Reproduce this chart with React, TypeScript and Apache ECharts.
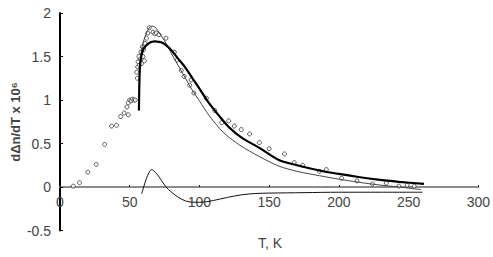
import React, { useEffect, useRef } from "react";
import * as echarts from "echarts";

const xTicks = [0, 50, 100, 150, 200, 250, 300];
const yTicks = [-0.5, 0, 0.5, 1, 1.5, 2];

const dataT = [9.5, 14, 20, 26, 32, 37, 40.5, 43.5, 46, 49, 48, 49, 50, 51, 52, 53, 54,
  55, 55.5, 55.7, 56, 56.5, 57, 57.5, 58, 58.5, 59, 59.5, 60, 60.5, 61, 62, 63, 64, 66.7, 68, 69, 71, 76,
  82, 84, 87, 89, 93, 94, 96, 105, 111, 116, 121, 125, 130, 136, 143, 150, 161, 168, 174, 186, 191,
  202, 213, 224, 234, 243, 249, 254];
const dataV = [0.01, 0.05, 0.17, 0.26, 0.49, 0.70, 0.71, 0.81, 0.85, 0.83, 0.92, 0.97, 1.0, 0.99, 1.01, 1.0, 1.0,
  1.32, 1.25, 1.38, 1.44, 1.5, 1.4, 1.47, 1.55, 1.42, 1.61, 1.5, 1.58, 1.45, 1.65, 1.71, 1.77, 1.83, 1.78, 1.76, 1.77, 1.75, 1.71,
  1.55, 1.46, 1.34, 1.27, 1.17, 1.23, 1.08, 1.02, 0.88, 0.74, 0.76, 0.70, 0.66, 0.61, 0.51, 0.44, 0.38, 0.28, 0.25, 0.18, 0.2,
  0.10, 0.07, 0.035, 0.045, 0.01, 0.02, 0.01];

const fitT = [56.6, 56.8, 57.2, 58, 59, 60, 62, 64, 66, 68, 70, 73, 76, 80, 85, 90, 95, 100, 107, 114, 121, 130, 143, 157, 170, 186, 200, 214, 228, 243, 261];
const fitV = [0.88, 1.1, 1.35, 1.48, 1.55, 1.59, 1.63, 1.655, 1.67, 1.675, 1.67, 1.66, 1.63, 1.57, 1.47, 1.37, 1.25, 1.13, 0.96, 0.82, 0.69, 0.57, 0.45, 0.31, 0.25, 0.19, 0.15, 0.115, 0.085, 0.06, 0.035];

const modelT = [56.6, 57, 57.6, 58.5, 60, 62, 64, 66, 68, 70, 75, 80, 85, 90, 95, 100, 107, 117, 129, 143, 157, 170, 186, 200, 214, 228, 243, 259];
const modelV = [0.88, 1.2, 1.45, 1.58, 1.68, 1.77, 1.83, 1.85, 1.84, 1.8, 1.68, 1.53, 1.39, 1.25, 1.11, 0.99, 0.82, 0.63, 0.48, 0.35, 0.24, 0.18, 0.13, 0.09, 0.055, 0.025, 0.0, -0.03];

const diffT = [58.5, 60, 62, 64, 65.5, 67, 70, 73, 76, 80, 85, 90, 95, 100, 105, 110, 120, 130, 140, 150, 175, 200, 230, 260];
const diffV = [-0.08, 0.0, 0.1, 0.17, 0.2, 0.19, 0.14, 0.07, 0.0, -0.06, -0.12, -0.16, -0.175, -0.175, -0.17, -0.155, -0.12, -0.09, -0.075, -0.07, -0.065, -0.06, -0.06, -0.06];

const zip = (a: number[], b: number[]) => a.map((v, i) => [v, b[i]]);

export default function App() {
  const ref = useRef<HTMLDivElement>(null);
  useEffect(() => {
    if (!ref.current) return;
    const chart = echarts.init(ref.current, undefined, { renderer: "svg" });
    const labelColor = "#444";
    const gridTop = 13;
    const gridBottom = 26.5;
    const plotH = 257 - gridTop - gridBottom;
    const yMin = yTicks[0];
    const yMax = yTicks[yTicks.length - 1];
    const zeroOffset = -((0 - yMin) / (yMax - yMin)) * plotH;
    chart.setOption({
      animation: false,
      backgroundColor: "#fff",
      textStyle: { fontFamily: "Liberation Sans, Arial, sans-serif" },
      grid: { left: 60, right: 13, top: gridTop, bottom: gridBottom },
      xAxis: {
        type: "value",
        min: xTicks[0],
        max: xTicks[xTicks.length - 1],
        interval: 50,
        position: "bottom",
        offset: zeroOffset,
        axisLine: { onZero: false, lineStyle: { color: "#8c8c8c", width: 2 } },
        axisTick: { show: true, inside: true, length: 2, lineStyle: { color: "#222", width: 1 } },
        axisLabel: { fontSize: 14, color: labelColor, margin: 8 },
        splitLine: { show: false },
      },
      yAxis: {
        type: "value",
        min: yMin,
        max: yMax,
        interval: 0.5,
        axisLine: { show: true, onZero: false, lineStyle: { color: "#000", width: 2 } },
        axisTick: { show: true, inside: true, length: 3, lineStyle: { color: "#000", width: 1 } },
        axisLabel: { fontSize: 14, color: labelColor, margin: 9 },
        splitLine: { show: false },
      },
      graphic: [
        {
          type: "text",
          x: 15,
          y: 122,
          rotation: Math.PI / 2,
          style: {
            text: "dΔn/dT x 10⁶",
            fontSize: 13,
            fontWeight: "bold",
            fontFamily: "Liberation Sans, Arial, sans-serif",
            fill: labelColor,
            textAlign: "center",
            textVerticalAlign: "middle",
          },
        },
        {
          type: "text",
          x: 270,
          y: 243,
          style: {
            text: "T, K",
            fontSize: 14,
            fontFamily: "Liberation Sans, Arial, sans-serif",
            fill: labelColor,
            textAlign: "center",
            textVerticalAlign: "middle",
          },
        },
      ],
      series: [
        {
          type: "scatter",
          data: zip(dataT, dataV),
          symbol: "circle",
          symbolSize: 4,
          itemStyle: { color: "#fff", borderColor: "#333", borderWidth: 1 },
          z: 2,
        },
        {
          type: "line",
          data: zip(modelT, modelV),
          showSymbol: false,
          smooth: 0.3,
          lineStyle: { color: "#444", width: 1 },
          z: 3,
        },
        {
          type: "line",
          data: zip(diffT, diffV),
          showSymbol: false,
          smooth: 0.3,
          lineStyle: { color: "#111", width: 1 },
          z: 3,
        },
        {
          type: "line",
          data: zip(fitT, fitV),
          showSymbol: false,
          smooth: 0.3,
          lineStyle: { color: "#000", width: 2.2 },
          z: 4,
        },
      ],
    });
    return () => chart.dispose();
  }, []);
  return (
    <div
      ref={ref}
      style={{ position: "fixed", left: 0, top: 0, width: 493, height: 257, background: "#fff" }}
    />
  );
}
